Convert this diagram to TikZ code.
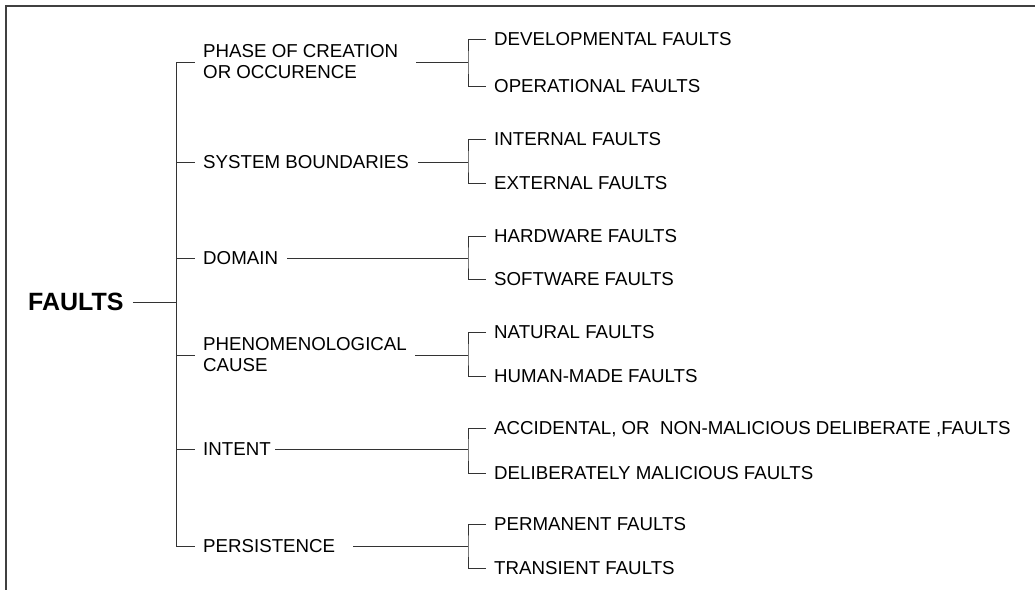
\documentclass[tikz,border=0pt]{standalone}
\usepackage{fontspec}
\setmainfont{Liberation Sans}
\begin{document}
\begin{tikzpicture}[x=1pt,y=-1pt,
  lab/.style={anchor=west,inner sep=0pt,align=left,font=\fontsize{18.7}{21}\selectfont},
  one/.style={lab,text depth=0pt},
  root/.style={anchor=west,inner sep=0pt,text depth=0pt,font=\fontsize{25}{28}\selectfont\bfseries},
  conn/.style={draw=black!80,line width=1pt},
  frame/.style={draw=black!75,line width=1.2pt}]
\useasboundingbox (0,0) rectangle (1035,590);
% frame
\coordinate (fa) at (1035,6);
\coordinate (fb) at (6,6);
\coordinate (fc) at (6,590);
\draw[frame] (fa) -- (fb) -- (fc);
% root
\node[root] (faults) at (28,302) {FAULTS};
\coordinate (trunk) at (176,302);
\draw[conn] ([xshift=9pt]faults.east) -- (trunk);
\coordinate (ttop) at (176,62);
\coordinate (tbot) at (176,546);
\draw[conn] (ttop) -- (tbot);
% level 1
\node[lab] (c1) at (203,62) {PHASE OF CREATION\\OR OCCURENCE};
\node[one] (c2) at (203,162) {SYSTEM BOUNDARIES};
\node[one] (c3) at (203,258) {DOMAIN};
\node[lab] (c4) at (203,355) {PHENOMENOLOGICAL\\CAUSE};
\node[one] (c5) at (203,449) {INTENT};
\node[one] (c6) at (203,546) {PERSISTENCE};
\foreach \i/\y in {1/62,2/162,3/258,4/355,5/449,6/546}{
  \coordinate (t\i) at (176,\y);
  \draw[conn] (t\i) -- ([xshift=-8pt]c\i.west);
}
% junctions
\foreach \i/\xs/\y in {1/416/62,2/418/162,3/287/258,4/415/355,5/275/449,6/353/546}{
  \coordinate (s\i) at (\xs,\y);
  \coordinate (j\i) at (468,\y);
  \draw[conn] (s\i) -- (j\i);
}
% level 2
\node[one] (d1a) at (494,39) {DEVELOPMENTAL FAULTS};
\node[one] (d1b) at (494,86) {OPERATIONAL FAULTS};
\node[one] (d2a) at (494,139) {INTERNAL FAULTS};
\node[one] (d2b) at (494,183) {EXTERNAL FAULTS};
\node[one] (d3a) at (494,236) {HARDWARE FAULTS};
\node[one] (d3b) at (494,279) {SOFTWARE FAULTS};
\node[one] (d4a) at (494,332) {NATURAL FAULTS};
\node[one] (d4b) at (494,376) {HUMAN-MADE FAULTS};
\node[one] (d5a) at (494,428) {ACCIDENTAL, OR\ \ NON-MALICIOUS DELIBERATE ,FAULTS};
\node[one] (d5b) at (494,473) {DELIBERATELY MALICIOUS FAULTS};
\node[one] (d6a) at (494,524) {PERMANENT FAULTS};
\node[one] (d6b) at (494,568) {TRANSIENT FAULTS};
\foreach \i in {1,...,6}{
  \draw[conn] ([xshift=-8pt]d\i a.west) -| (j\i) |- ([xshift=-8pt]d\i b.west);
}
\end{tikzpicture}
\end{document}
